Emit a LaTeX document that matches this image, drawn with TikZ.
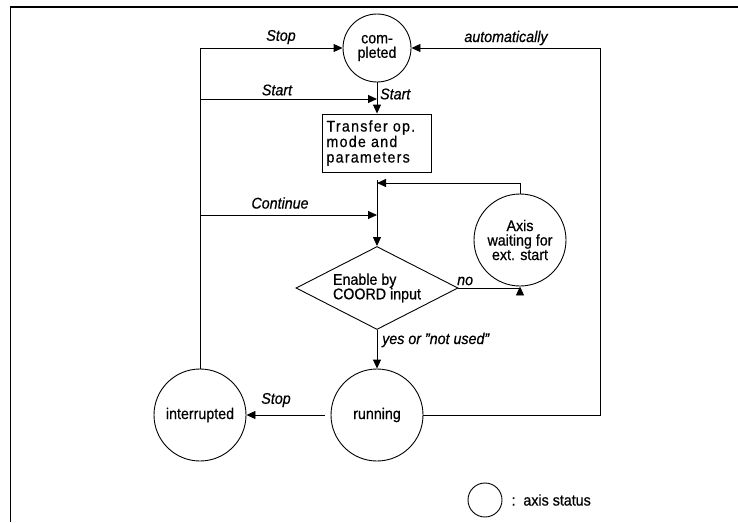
\documentclass[tikz,border=0pt]{standalone}
\usepackage{fontspec}
\setmainfont{Liberation Sans}[FakeStretch=0.92,FakeBold=0.6]
\usetikzlibrary{shapes.geometric,arrows.meta}
\begin{document}
\begin{tikzpicture}[x=1pt,y=-1pt,
  txt/.style={font=\fontsize{15.5}{14.5}\selectfont},
  statenode/.style={circle,draw,line width=0.9pt,inner sep=0pt,minimum size=#1,align=center,txt},
  boxnode/.style={draw,line width=0.9pt,minimum width=109pt,minimum height=58pt,inner sep=4pt,text width=101pt,align=left,font=\fontsize{15.5}{15.5}\selectfont\addfontfeature{LetterSpace=8}},
  decnode/.style={diamond,draw,line width=0.9pt,aspect=2,inner sep=0pt,minimum width=162pt,minimum height=83pt,align=left,txt},
  lbl/.style={inner sep=0pt,font=\fontsize{15.5}{15.5}\selectfont\itshape},
  arr/.style={line width=0.9pt,-{Triangle[length=9pt,width=8pt]}},
  ln/.style={line width=0.9pt}]
\useasboundingbox (0,0) rectangle (738,522);
% frame
\draw[line width=1.5pt] (10,7) -- (738,7);
\draw[line width=0.8pt] (10,7) -- (10,522);
% nodes
\node[statenode=68pt] (comp) at (377,48) {com-\\pleted};
\node[boxnode] (xfer) at (377,143) {Transfer op.\\mode and\\parameters};
\node[decnode] (dec) at (377,288) {Enable by\\COORD input};
\node[statenode=92pt] (axis) at (520,240) {Axis\\waiting for\\ext. start};
\node[statenode=92pt] (run) at (377,415) {running};
\node[statenode=92pt] (intr) at (200,415) {interrupted};
\node[statenode=34pt] (legc) at (485,500) {};
\node[anchor=west,txt] (legt) at (508,500) {:\ \ axis status};
% junction coordinates
\coordinate (cS) at (200,99);
\coordinate (jS) at (377,99);
\coordinate (cC) at (200,215);
\coordinate (jC) at (377,215);
\coordinate (jA) at (377,183);
\coordinate (cR) at (600,415);
% connectors
\draw[arr] (intr.north) |- (comp.west);
\draw[arr] (cS) -- (jS);
\draw[arr] (cC) -- (jC);
\draw[arr] (comp.south) -- (xfer.north);
\draw[arr,shorten <=8pt] (xfer.south) -- (dec.north);
\draw[arr] (axis.north) |- (jA);
\draw[arr] (dec.east) -| (axis.south);
\draw[arr] (dec.south) -- (run.north);
\draw[arr] (run.east) -- (cR) |- (comp.east);
\draw[arr,shorten <=6pt] (run.west) -- (intr.east);
% labels
\node[lbl] (tStop1) at (281,37) {Stop};
\node[lbl] (tStart1) at (277,90) {Start};
\node[lbl] (tCont) at (280,203) {Continue};
\node[lbl,anchor=west] (tStart2) at (380,94) {Start};
\node[lbl] (tAuto) at (506,38) {automatically};
\node[lbl,anchor=west] (tNo) at (457,281) {no};
\node[lbl,anchor=west] (tYes) at (382,340) {yes or "not used"};
\node[lbl] (tStop2) at (276,400) {Stop};
\end{tikzpicture}
\end{document}
